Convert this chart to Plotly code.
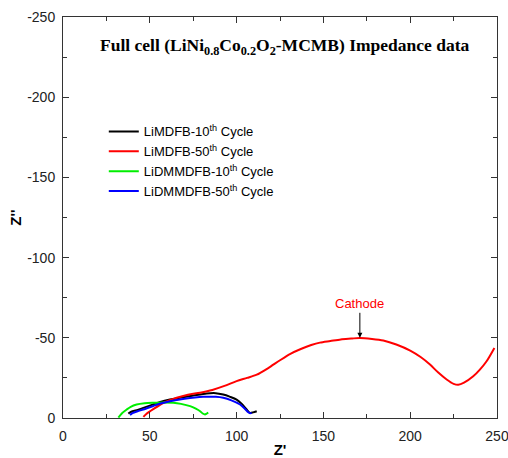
import plotly.graph_objects as go

# ---- data ----
red_x = [46.3, 48, 52, 58, 65.5, 72, 79, 86, 93, 100, 106, 111.6, 118, 125, 131, 137, 143, 148, 154, 160,
         166, 171, 178, 184.5, 192, 200, 206, 211.4, 216, 221, 225, 227.7, 231, 236.3, 240, 244, 248.5]
red_y = [-0.7, -2.5, -5.5, -9.5, -12.6, -14.5, -15.8, -17.5, -20, -23, -25, -27, -31, -36, -40, -43, -45.5, -47, -48, -49,
         -49.5, -49.9, -49.3, -48.3, -45.8, -42, -38, -33.3, -28.5, -24, -21.3, -20.7, -22, -26, -30, -35.4, -43.7]

black_x = [37.6, 40, 43, 46.3, 52, 56, 61.6, 68, 75, 82.8, 88, 92.3, 96, 100, 103, 105.8, 107.7, 109.5, 111.6]
black_y = [-2.8, -4.2, -5, -6.3, -8.5, -10, -11.5, -12.8, -14, -15.3, -15.5, -14.6, -13.3, -11.5, -8.8, -5.3, -3.2, -3.5, -4.2]

blue_x = [38.6, 40, 43, 46.3, 52, 56, 61.6, 70, 80.8, 88, 92.3, 97, 102, 105, 106.7, 107.8, 108.7]
blue_y = [-1.8, -3, -4.2, -5.3, -7.5, -9, -10.5, -12, -13.2, -13.2, -12.6, -11, -8.4, -5.5, -3.6, -3.0, -3.2]

green_x = [31.9, 34, 36.7, 39, 42.4, 47, 52, 58, 63.5, 68, 73.2, 76.5, 79, 80.5, 81.8, 82.8, 83.7]
green_y = [-0.3, -3, -5.3, -7, -8.4, -9.2, -9.5, -9.7, -9.5, -8.8, -7.4, -5.8, -4.2, -2.8, -2.2, -2.8, -3.3]

series_names = ["LiMDFB-10<sup>th</sup> Cycle", "LiMDFB-50<sup>th</sup> Cycle",
                "LiDMMDFB-10<sup>th</sup> Cycle", "LiDMMDFB-50<sup>th</sup> Cycle"]

x_tickvals = [0, 50, 100, 150, 200, 250]
x_ticktext = ["0", "50", "100", "150", "200", "250"]
y_tickvals = [0, -50, -100, -150, -200, -250]
y_ticktext = ["0", "-50", "-100", "-150", "-200", "-250"]

title_text = "Full cell (LiNi<sub>0.8</sub>Co<sub>0.2</sub>O<sub>2</sub>-MCMB) Impedance data"
cathode_x, cathode_y = 171, -50

fig = go.Figure()
for xs, ys, name, col in [(black_x, black_y, series_names[0], "#000000"),
                          (red_x, red_y, series_names[1], "#ff0000"),
                          (green_x, green_y, series_names[2], "#00ee00"),
                          (blue_x, blue_y, series_names[3], "#0000ff")]:
    fig.add_trace(go.Scatter(x=xs, y=ys, mode="lines", name=name,
                             line=dict(color=col, width=2, shape="spline", smoothing=0.8)))

axis_common = dict(showline=True, linecolor="#333333", linewidth=1, mirror="ticks",
                   ticks="inside", ticklen=6, tickcolor="#333333", showgrid=False, zeroline=False,
                   automargin=False, ticklabeloverflow="allow",
                   tickfont=dict(family="Liberation Sans, Arial", size=14, color="#222222"),
                   minor=dict(ticks="inside", ticklen=4, dtick=25, tickcolor="#333333", showgrid=False))

fig.update_xaxes(range=[0, 250], tickvals=x_tickvals, ticktext=x_ticktext,
                 title=dict(text="<b>Z'</b>", font=dict(family="Liberation Sans, Arial", size=15, color="#000"), standoff=6),
                 ticklabelstandoff=5, **axis_common)
fig.update_yaxes(range=[0, -250], tickvals=y_tickvals, ticktext=y_ticktext,
                 title=dict(text="<b>Z''</b>", font=dict(family="Liberation Sans, Arial", size=15, color="#000"), standoff=1),
                 ticklabelstandoff=4, **axis_common)

fig.add_annotation(x=0.5115, y=0.96, xref="paper", yref="paper", text="<b>" + title_text + "</b>",
                   showarrow=False, font=dict(family="Liberation Serif, Times New Roman", size=17.5, color="#000"))
fig.add_annotation(x=cathode_x, y=cathode_y, xref="x", yref="y", text="Cathode",
                   showarrow=True, ax=0, ay=-34, arrowhead=2, arrowsize=1, arrowwidth=1, arrowcolor="#000",
                   font=dict(family="Liberation Sans, Arial", size=13, color="#ff0000"))

fig.update_layout(width=508, height=458, margin=dict(l=63, r=11, t=17, b=40),
                  paper_bgcolor="white", plot_bgcolor="white",
                  legend=dict(x=0.094, y=0.752, xanchor="left", yanchor="top", bgcolor="rgba(0,0,0,0)",
                              font=dict(family="Liberation Sans, Arial", size=13, color="#000"),
                              tracegroupgap=0),
                  showlegend=True)

fig.write_html("out.html")
